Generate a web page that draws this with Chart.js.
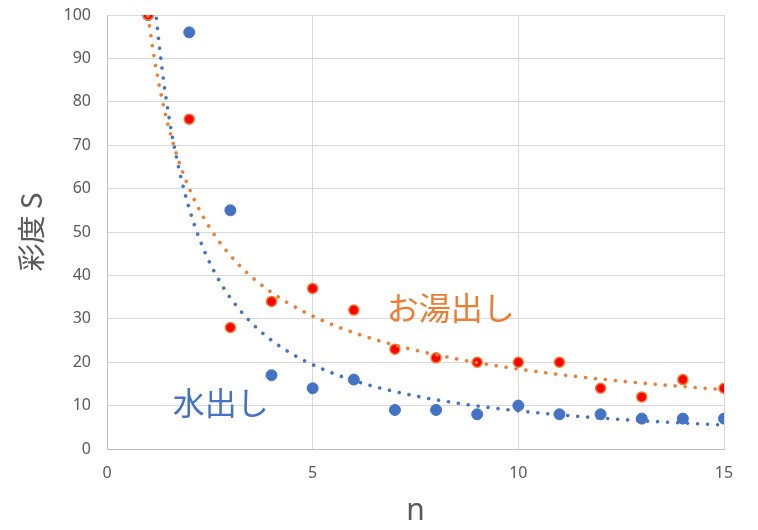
<!DOCTYPE html>
<html>
<head>
<meta charset="utf-8">
<script src="https://cdn.jsdelivr.net/npm/chart.js@4"></script>
<style>
  html, body { margin: 0; padding: 0; background: #fff; }
  #wrap { width: 758px; height: 530px; }
</style>
</head>
<body>
<div id="wrap"><canvas id="chart" width="758" height="530"></canvas></div>
<script>
// n values and saturation S
const nValues = [1, 2, 3, 4, 5, 6, 7, 8, 9, 10, 11, 12, 13, 14, 15];
const coldBrew = [100, 96, 55, 17, 14, 16, 9, 9, 8, 10, 8, 8, 7, 7, 7];     // 水出し
const hotBrew  = [100, 76, 28, 34, 37, 32, 23, 21, 20, 20, 20, 14, 12, 16, 14]; // お湯出し
const xTicks = [0, 5, 10, 15];
const yTicks = [0, 10, 20, 30, 40, 50, 60, 70, 80, 90, 100];

const BLUE = '#4472C4';
const ORANGE = '#ED7D31';
const GRAY_TXT = '#595959';

// power trendline (y = a * x^b), least squares on logs like Excel does
function powerFit(xs, ys){
  const lx = xs.map(Math.log), ly = ys.map(Math.log);
  const mx = lx.reduce((s,v)=>s+v,0)/lx.length;
  const my = ly.reduce((s,v)=>s+v,0)/ly.length;
  let sxy = 0, sxx = 0;
  lx.forEach((v,i)=>{ sxy += (v-mx)*(ly[i]-my); sxx += (v-mx)*(v-mx); });
  const b = sxy/sxx;
  return { a: Math.exp(my - b*mx), b };
}
function trendPoints(xs, ys){
  const f = powerFit(xs, ys);
  const lo = Math.min(...xs), hi = Math.max(...xs);
  const pts = [];
  for (let i = 0; i <= 280; i++) {
    const x = lo + (hi - lo) * i / 280;
    pts.push({ x, y: f.a * Math.pow(x, f.b) });
  }
  return pts;
}
const toXY = ys => nValues.map((n,i) => ({ x: n, y: ys[i] }));

const labels = [
  { text: 'お湯出し', x: 6.8, y: 32.5, color: ORANGE },
  { text: '水出し', x: 1.6, y: 10.6, color: BLUE }
];
const labelPlugin = {
  id: 'labels',
  afterDatasetsDraw(chart){
    const {ctx, scales} = chart;
    ctx.save();
    ctx.font = '32px "Noto Sans CJK JP"';
    ctx.textAlign = 'left';
    ctx.textBaseline = 'middle';
    labels.forEach(l => {
      ctx.fillStyle = l.color;
      ctx.fillText(l.text, scales.x.getPixelForValue(l.x), scales.y.getPixelForValue(l.y));
    });
    ctx.restore();
  }
};

const dotted = { borderDash: [0.01, 10], borderCapStyle: 'round', borderWidth: 3.6, pointRadius: 0, showLine: true, tension: 0, fill: false };

new Chart(document.getElementById('chart'), {
  type: 'scatter',
  data: {
    datasets: [
      Object.assign({ label: 'お湯出し 累乗近似', data: trendPoints(nValues, hotBrew), borderColor: ORANGE }, dotted),
      Object.assign({ label: '水出し 累乗近似', data: trendPoints(nValues, coldBrew), borderColor: BLUE }, dotted),
      { label: 'お湯出し', data: toXY(hotBrew), backgroundColor: '#FF0000', borderColor: ORANGE, borderWidth: 1.5, pointRadius: 5, showLine: false },
      { label: '水出し', data: toXY(coldBrew), backgroundColor: BLUE, borderColor: BLUE, borderWidth: 1, pointRadius: 5.5, showLine: false }
    ]
  },
  options: {
    responsive: false,
    animation: false,
    layout: { padding: { left: 0, top: 15, right: 34, bottom: 0 } },
    plugins: { legend: { display: false }, tooltip: { enabled: false } },
    scales: {
      x: {
        type: 'linear', min: 0, max: 15,
        afterBuildTicks: s => { s.ticks = xTicks.map(v => ({ value: v })); },
        afterFit: s => { s.height = 81; },
        grid: { color: '#D9D9D9', drawTicks: false },
        border: { color: '#BFBFBF' },
        ticks: { padding: 15, color: GRAY_TXT, font: { family: 'Noto Sans', size: 16 } },
        title: { display: true, text: 'n', color: GRAY_TXT, font: { family: 'Noto Sans', size: 30 }, padding: { top: 0, bottom: 1 } }
      },
      y: {
        type: 'linear', min: 0, max: 100,
        afterBuildTicks: s => { s.ticks = yTicks.map(v => ({ value: v })); },
        afterFit: s => { s.width = 107; s.paddingTop = 0; s.paddingBottom = 0; },
        grid: { color: '#D9D9D9', drawTicks: false },
        border: { color: '#BFBFBF' },
        ticks: { padding: 16, color: GRAY_TXT, font: { family: 'Noto Sans', size: 16 } },
        title: { display: true, text: '彩度 S', color: GRAY_TXT, font: { family: '"Noto Sans CJK JP"', size: 28 }, padding: { top: 15, bottom: 0 } }
      }
    }
  },
  plugins: [labelPlugin]
});
</script>
</body>
</html>
